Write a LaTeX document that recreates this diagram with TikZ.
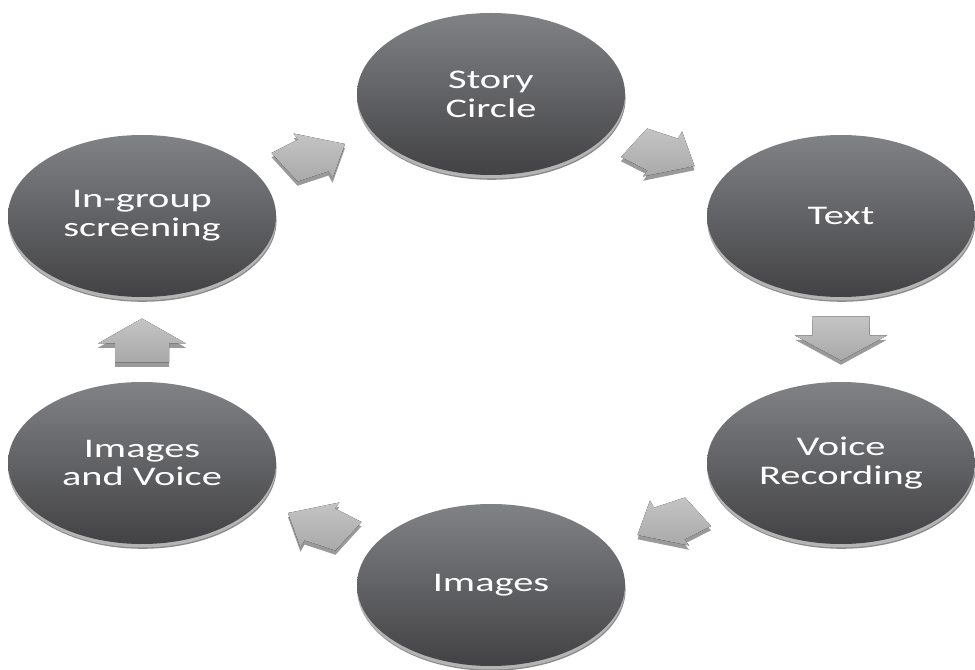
\documentclass[tikz,border=0pt]{standalone}
\usepackage{fontspec}
\setmainfont{Carlito}
\newfontfamily\diskfont[FakeStretch=1.5]{Carlito}
\usetikzlibrary{shapes.geometric,calc}
\definecolor{disktop}{HTML}{818286}
\definecolor{diskbot}{HTML}{424244}
\definecolor{rimlight}{HTML}{B4B4B4}
\definecolor{rimdark}{HTML}{8A8A8A}
\definecolor{arrtop}{HTML}{C4C4C4}
\definecolor{arrbot}{HTML}{A9A9A9}
\definecolor{arrside}{HTML}{9A9A9A}
\tikzset{
  disk/.style={ellipse, inner sep=0pt, minimum width=201pt, minimum height=121.5pt,
    align=center, text=white,
    font=\diskfont\fontsize{20.2pt}{21.6pt}\selectfont,
    preaction={fill=rimdark, transform canvas={xshift=0.4pt, yshift=-3.6pt}},
    preaction={fill=rimlight, transform canvas={yshift=-2.6pt}},
    top color=disktop, bottom color=diskbot},
  arrface/.style={top color=arrtop, bottom color=arrbot},
  arrshade/.style={fill=arrside},
  arrpos/.style={shift={#1}}
}
% block arrow given as a closed polygon (offsets in px from the arrow's centre)
\newcommand\polyarrow[1]{%
  \fill[arrshade, transform canvas={yshift=-3.2pt}] #1 -- cycle;
  \fill[arrface] #1 -- cycle;
}
% diagonal arrow in perspective, pointing up-left (mirrored for the others)
\newcommand\diagarrow{\polyarrow{(-28.5,-11) -- (23,-21.5) -- (18.5,-15.5) -- (45,-2) -- (19,26.5) -- (-12,16.3) -- (-16,23.5)}}
\begin{document}
\begin{tikzpicture}[x=0.75pt, y=-0.75pt]
\useasboundingbox (0,0) rectangle (975,670);

\node[disk] (story)   at (491,94)  {Story\\Circle};
\node[disk] (text)    at (841,216) {Text};
\node[disk] (voice)   at (841,463) {Voice\\Recording};
\node[disk] (images)  at (491,585) {Images};
\node[disk] (iv)      at (142,463) {Images\\and Voice};
\node[disk] (ingroup) at (142,216) {In-group\\screening};

% In-group screening -> Story Circle
\begin{scope}[arrpos={($(ingroup)!0.5!(story)$)}, xscale=-1]
  \diagarrow
\end{scope}
% Story Circle -> Text
\begin{scope}[arrpos={($(story)!0.5!(text)$)}, xscale=-1, yscale=-1]
  \diagarrow
\end{scope}
% Text -> Voice Recording
\begin{scope}[arrpos={($(text)!0.5!(voice)$)}]
  \polyarrow{(-28.5,-23) -- (28.5,-23) -- (28.5,-4) -- (46,-4) -- (0,21) -- (-46,-4) -- (-28.5,-4)}
\end{scope}
% Voice Recording -> Images
\begin{scope}[arrpos={($(voice)!0.5!(images)$)}, yscale=-1]
  \diagarrow
\end{scope}
% Images -> Images and Voice
\begin{scope}[arrpos={($(images)!0.5!(iv)$)}]
  \diagarrow
\end{scope}
% Images and Voice -> In-group screening
\begin{scope}[arrpos={($(iv)!0.5!(ingroup)$)}]
  \polyarrow{(-27,23) -- (27,23) -- (27,4) -- (44,4) -- (0,-21) -- (-44,4) -- (-27,4)}
\end{scope}
\end{tikzpicture}
\end{document}
